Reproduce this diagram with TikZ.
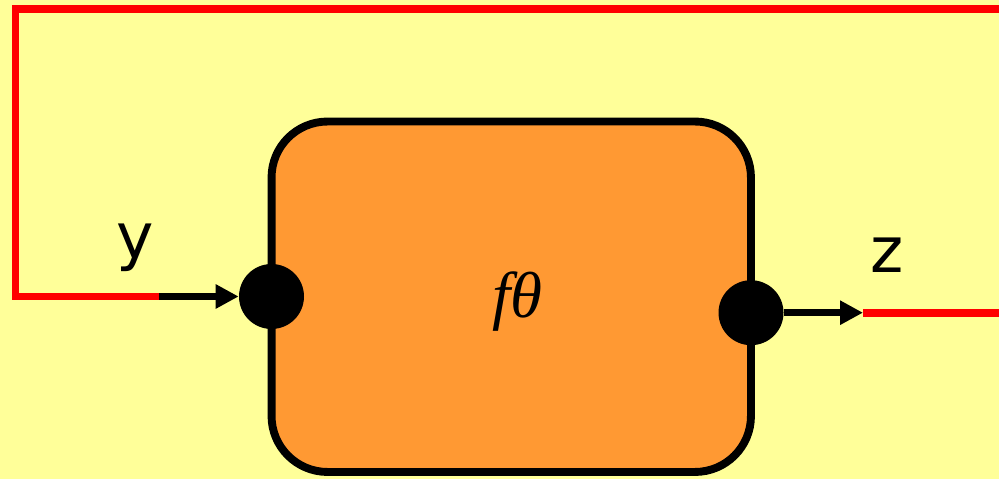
\documentclass[tikz,border=0pt]{standalone}
\usepackage{fontspec}
\setmainfont{DejaVu Sans}
\newfontfamily\thetafont{Liberation Serif}
\usepackage{xcolor}
\usetikzlibrary{positioning,arrows.meta,calc}
\definecolor{paper}{HTML}{FFFF99}
\definecolor{block}{HTML}{FF9933}
\definecolor{wire}{HTML}{FF0000}

\begin{document}
\begin{tikzpicture}[x=0.02cm, y=0.02cm,
    fbox/.style={draw=black, fill=block, line width=4.5pt, rounded corners=1.12cm,
                 minimum width=9.59cm, minimum height=7.01cm, inner sep=0pt},
    port/.style={circle, fill=black, minimum size=1.3cm, inner sep=0pt},
    feed/.style={draw=wire, line width=4.5pt},
    signal/.style={draw=black, line width=4pt, -{Triangle[length=4.6mm, width=4.6mm]}},
    sig/.style={font=\fontsize{36}{40}\selectfont, inner sep=0pt},
  ]
    % --- background -------------------------------------------------------
    \fill[paper] (0,0) rectangle (999,479);
    \useasboundingbox (0,0) rectangle (999,479);

    % --- block and its ports ----------------------------------------------
    \node[fbox] (f) at (511.25,182.25) {};
    \node[font=\thetafont\itshape\fontsize{37}{40}\selectfont, inner sep=0pt]
         (ftxt) at (517,177.5) {fθ};
    \node[port] (in)  at (271.5,182.5) {};
    \node[port] (out) at (751,166.3) {};

    % --- signal labels ----------------------------------------------------
    \node[sig] (ly) at (135,231.5) {y};
    \node[sig] (lz) at (887,223.5) {z};

    % --- wires ------------------------------------------------------------
    \coordinate (top)  at (999,470);
    \coordinate (tl)   at (15.5,470);
    \coordinate (bl)   at (15.5,182.5);
    \coordinate (ya)   at (159,182.5);
    \coordinate (za)   at (863,166.3);
    \coordinate (zend) at (999,166.3);
    \draw[feed] (top) -- (tl) -- (bl) -- (ya);
    \draw[signal] (ya) -- (in.west);
    \draw[signal] (out.east) -- (za);
    \draw[feed] (za) -- (zend);
\end{tikzpicture}
\end{document}
